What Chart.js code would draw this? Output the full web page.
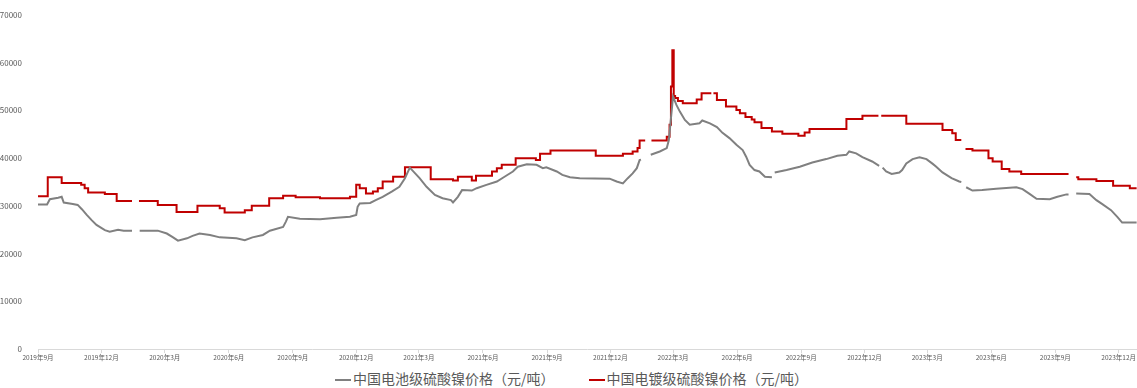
<!DOCTYPE html>
<html>
<head>
  <meta charset="UTF-8" />
  <title>硫酸镍价格</title>
  <script src="https://cdn.jsdelivr.net/npm/chart.js"></script>
  <style>
    body { margin: 0; background: #fff; font-family: "Noto Sans CJK SC", sans-serif; }
    #wrap { width: 1137px; height: 368px; position: relative; }
    .legend { height: 20px; display: flex; justify-content: center; align-items: center; gap: 34px; color: #595959; font-size: 14px; line-height: 20px; padding-left: 6px; }
    .legend span.key { display: inline-block; width: 16px; height: 2px; margin-right: 2px; vertical-align: middle; }
  </style>
</head>
<body>
  <div id="wrap"><canvas id="chart"></canvas></div>
  <div class="legend">
    <div><span class="key" style="background:#808080"></span>中国电池级硫酸镍价格（元/吨）</div>
    <div><span class="key" style="background:#C00000"></span>中国电镀级硫酸镍价格（元/吨）</div>
  </div>

  <script>
    // battery grade (grey), null = gap
    const batteryDates = [
      '2019-09-01', '2019-09-14', '2019-09-18', '2019-09-30', '2019-10-05', '2019-10-08', '2019-10-21', '2019-10-28',
      '2019-11-03', '2019-11-10', '2019-11-17', '2019-11-24', '2019-12-06', '2019-12-13', '2019-12-25', '2020-01-02',
      '2020-01-14', '2020-01-15', '2020-01-25', '2020-02-20', '2020-03-04', '2020-03-13', '2020-03-20', '2020-04-02',
      '2020-04-10', '2020-04-20', '2020-05-05', '2020-05-19', '2020-06-12', '2020-06-24', '2020-07-05', '2020-07-20',
      '2020-07-30', '2020-08-18', '2020-08-22', '2020-08-25', '2020-09-11', '2020-10-10', '2020-11-03', '2020-11-22',
      '2020-12-01', '2020-12-03', '2020-12-06', '2020-12-21', '2020-12-29', '2021-01-08', '2021-01-21', '2021-02-01',
      '2021-02-09', '2021-02-16', '2021-03-02', '2021-03-12', '2021-03-24', '2021-04-04', '2021-04-16', '2021-04-19',
      '2021-04-26', '2021-05-02', '2021-05-16', '2021-05-23', '2021-06-06', '2021-06-21', '2021-07-02', '2021-07-14',
      '2021-07-21', '2021-08-03', '2021-08-17', '2021-08-26', '2021-08-31', '2021-09-15', '2021-09-23', '2021-10-04',
      '2021-10-18', '2021-11-30', '2021-12-10', '2021-12-19', '2021-12-26', '2022-01-02', '2022-01-08', '2022-01-12',
      '2022-01-14', '2022-01-15', '2022-01-28', '2022-02-10', '2022-02-20', '2022-02-23', '2022-03-01', '2022-03-06',
      '2022-03-11', '2022-03-18', '2022-03-25', '2022-04-08', '2022-04-12', '2022-04-23', '2022-05-03', '2022-05-11',
      '2022-05-21', '2022-05-31', '2022-06-09', '2022-06-14', '2022-06-19', '2022-06-26', '2022-07-03', '2022-07-11',
      '2022-07-21', '2022-07-22', '2022-07-25', '2022-08-11', '2022-08-30', '2022-09-17', '2022-10-07', '2022-10-23',
      '2022-11-05', '2022-11-09', '2022-11-19', '2022-11-28', '2022-12-12', '2022-12-22', '2022-12-23', '2022-12-27',
      '2023-01-01', '2023-01-09', '2023-01-20', '2023-01-24', '2023-01-30', '2023-02-08', '2023-02-18', '2023-02-28',
      '2023-03-09', '2023-03-14', '2023-03-23', '2023-04-05', '2023-04-16', '2023-04-19', '2023-04-20', '2023-04-26',
      '2023-05-05', '2023-05-19', '2023-06-08', '2023-07-07', '2023-07-16', '2023-07-26', '2023-08-05', '2023-08-24',
      '2023-09-04', '2023-09-17', '2023-09-20', '2023-09-21', '2023-10-01', '2023-10-20', '2023-10-30', '2023-11-07',
      '2023-11-20', '2023-11-29', '2023-12-06', '2023-12-27'
    ];
    const batteryPrices = [
      30300, 30300, 31400, 31700, 31900, 30700, 30400, 30200,
      29300, 28100, 27000, 26000, 24900, 24600, 25000, 24800,
      24800, null, 24800, 24800, 24200, 23400, 22700, 23200,
      23700, 24200, 23900, 23400, 23200, 22800, 23400, 23900,
      24800, 25600, 26700, 27700, 27300, 27200, 27500, 27700,
      28100, 29800, 30500, 30600, 31200, 31900, 33000, 34000,
      35800, 38000, 35800, 34000, 32300, 31600, 31200, 30700,
      31900, 33300, 33200, 33700, 34400, 35100, 36100, 37200,
      38200, 38700, 38600, 37900, 38100, 37200, 36500, 36000,
      35800, 35700, 35100, 34700, 35800, 36800, 37900, 39600,
      39700, null, 40700, 41400, 42100, 43800, 52900, 51100,
      49700, 48000, 47000, 47300, 47900, 47300, 46500, 45300,
      44200, 42800, 41700, 40300, 38600, 37500, 37200, 36100,
      36000, null, 37000, 37500, 38200, 39100, 39800, 40500,
      40700, 41400, 41000, 40200, 39300, 38400, null, 38000,
      37200, 36700, 37000, 37500, 38900, 39800, 40200, 39800,
      38800, 38200, 37000, 35800, 35100, 35000, null, 33900,
      33200, 33300, 33600, 33900, 33500, 32500, 31500, 31400,
      31900, 32400, 32400, null, 32600, 32500, 31200, 30400,
      29100, 27700, 26500, 26500
    ];

    // plating grade (red) - each point starts a new price step, null = gap
    const platingDates = [
      '2019-09-01', '2019-09-15', '2019-10-05', '2019-11-02', '2019-11-07', '2019-11-12', '2019-12-06', '2019-12-23',
      '2020-01-14', '2020-01-15', '2020-01-24', '2020-02-20', '2020-03-18', '2020-04-17', '2020-05-19', '2020-05-26',
      '2020-06-24', '2020-07-04', '2020-07-29', '2020-08-18', '2020-09-05', '2020-10-10', '2020-11-22', '2020-12-01',
      '2020-12-06', '2020-12-15', '2020-12-25', '2021-01-01', '2021-01-08', '2021-01-23', '2021-02-09', '2021-03-18',
      '2021-04-19', '2021-04-26', '2021-05-16', '2021-05-22', '2021-06-14', '2021-06-21', '2021-06-28', '2021-07-18',
      '2021-08-16', '2021-08-22', '2021-09-06', '2021-11-10', '2021-12-19', '2022-01-02', '2022-01-09', '2022-01-12',
      '2022-01-20', '2022-01-21', '2022-01-29', '2022-02-20', '2022-02-24', '2022-02-26', '2022-02-28', '2022-03-02',
      '2022-03-04', '2022-03-08', '2022-03-15', '2022-04-04', '2022-04-11', '2022-04-25', '2022-04-26', '2022-04-28',
      '2022-05-03', '2022-05-16', '2022-05-31', '2022-06-05', '2022-06-13', '2022-06-22', '2022-06-26', '2022-07-06',
      '2022-07-21', '2022-08-05', '2022-08-28', '2022-09-06', '2022-09-13', '2022-11-05', '2022-11-28', '2022-12-21',
      '2022-12-22', '2022-12-25', '2023-01-30', '2023-03-23', '2023-04-06', '2023-04-11', '2023-04-19', '2023-04-20',
      '2023-04-25', '2023-05-05', '2023-05-28', '2023-06-03', '2023-06-16', '2023-06-27', '2023-07-14', '2023-09-20',
      '2023-09-21', '2023-10-01', '2023-10-04', '2023-10-30', '2023-11-23', '2023-12-17', '2023-12-27'
    ];
    const platingPrices = [
      32000, 36000, 34800, 34400, 33700, 32800, 32500, 31000,
      31000, null, 31000, 30200, 28700, 30000, 29500, 28600,
      29100, 30000, 31600, 32100, 31800, 31600, 31900, 34400,
      33700, 32600, 33000, 33700, 35100, 36100, 38100, 35600,
      35300, 36100, 35300, 36300, 37200, 37900, 38600, 40000,
      39600, 40900, 41600, 40500, 40900, 41400, 42100, 43700,
      43700, null, 43700, 44500, 47000, 55000, 62600, 53000,
      52600, 52000, 51500, 52300, 53600, 53600, null, 53600,
      52200, 50800, 50100, 49400, 48600, 48100, 47500, 46300,
      45600, 45100, 44700, 45400, 46100, 48200, 48900, 48900,
      null, 48900, 47200, 45900, 45200, 43800, 43800, null,
      41900, 41600, 40000, 39300, 37700, 37200, 36700, 36700,
      null, 36000, 35600, 35200, 34200, 33700, 33700
    ];

    const tickDates = [
      '2019-09-01', '2019-12-01', '2020-03-01', '2020-06-01', '2020-09-01', '2020-12-01',
      '2021-03-01', '2021-06-01', '2021-09-01', '2021-12-01', '2022-03-01', '2022-06-01',
      '2022-09-01', '2022-12-01', '2023-03-01', '2023-06-01', '2023-09-01', '2023-12-01'
    ];
    const tickLabels = [
      '2019年9月', '2019年12月', '2020年3月', '2020年6月', '2020年9月', '2020年12月',
      '2021年3月', '2021年6月', '2021年9月', '2021年12月', '2022年3月', '2022年6月',
      '2022年9月', '2022年12月', '2023年3月', '2023年6月', '2023年9月', '2023年12月'
    ];

    const dayNum = s => Date.UTC(+s.slice(0, 4), +s.slice(5, 7) - 1, +s.slice(8, 10)) / 86400000;
    const toPoints = (dates, vals) => dates.map((d, i) => ({ x: dayNum(d), y: vals[i] }));

    const font = { family: '"Noto Sans CJK SC", sans-serif' };

    new Chart(document.getElementById('chart'), {
      type: 'line',
      data: {
        datasets: [
          {
            label: '中国电池级硫酸镍价格（元/吨）',
            data: toPoints(batteryDates, batteryPrices),
            borderColor: '#808080',
            borderWidth: 2,
            pointRadius: 0,
            spanGaps: false
          },
          {
            label: '中国电镀级硫酸镍价格（元/吨）',
            data: toPoints(platingDates, platingPrices),
            borderColor: '#C00000',
            borderWidth: 2,
            pointRadius: 0,
            stepped: true,
            spanGaps: false
          }
        ]
      },
      options: {
        responsive: true,
        maintainAspectRatio: false,
        animation: false,
        layout: { padding: { top: 15, right: 0, left: 0, bottom: 0 } },
        plugins: {
          legend: { display: false },
          tooltip: { enabled: false }
        },
        scales: {
          x: {
            type: 'linear',
            min: dayNum(batteryDates[0]),
            max: dayNum(batteryDates[batteryDates.length - 1]),
            grid: { drawOnChartArea: false, drawTicks: true, tickLength: 4, color: '#d9d9d9' },
            border: { color: '#d9d9d9' },
            afterBuildTicks: scale => { scale.ticks = tickDates.map(d => ({ value: dayNum(d) })); },
            afterFit: scale => { scale.height = 19; },
            ticks: {
              autoSkip: false,
              maxRotation: 0,
              padding: 1,
              color: '#595959',
              font: { ...font, size: 6.5 },
              callback: (v, i) => tickLabels[i]
            }
          },
          y: {
            min: 0,
            max: 70000,
            grid: { display: false },
            border: { display: false },
            afterFit: scale => { scale.width = 38; },
            ticks: {
              stepSize: 10000,
              padding: 8,
              color: '#595959',
              font: { ...font, size: 8 },
              callback: v => String(v)
            }
          }
        }
      }
    });
  </script>
</body>
</html>
